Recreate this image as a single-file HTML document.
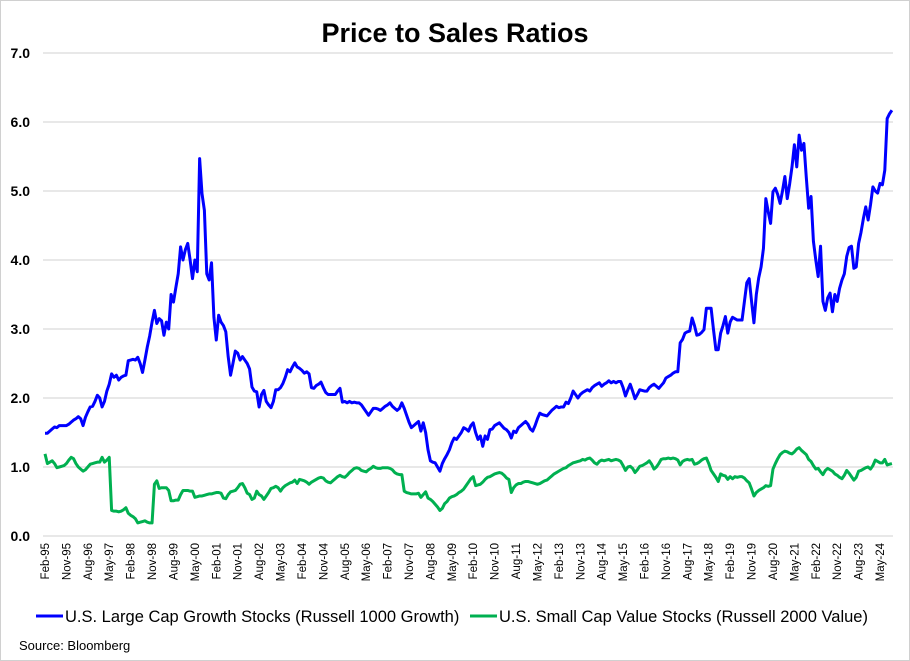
<!DOCTYPE html>
<html><head><meta charset="utf-8"><style>
body{margin:0;background:#fff;}
svg{display:block;font-family:"Liberation Sans",Arial,sans-serif;}
</style></head><body>
<svg id="chart" width="910" height="661" viewBox="0 0 910 661" xmlns="http://www.w3.org/2000/svg">
<rect x="0.5" y="0.5" width="909" height="660" fill="#fff" stroke="#d0d0d0"/>
<text x="455" y="42" text-anchor="middle" font-size="27" font-weight="bold" fill="#000">Price to Sales Ratios</text>
<g id="grid"></g>
<g id="yticks"></g>
<g id="xticks"></g>
<g id="series"></g>
<g>
<line x1="36" y1="616" x2="63" y2="616" stroke="#0000ff" stroke-width="3"/>
<text x="65" y="622" font-size="16.5" fill="#000">U.S. Large Cap Growth Stocks (Russell 1000 Growth)</text>
<line x1="470" y1="616" x2="497" y2="616" stroke="#00b050" stroke-width="3"/>
<text x="499" y="622" font-size="16.5" fill="#000">U.S. Small Cap Value Stocks (Russell 2000 Value)</text>
</g>
<text x="19" y="650" font-size="13" fill="#000">Source: Bloomberg</text>
</svg>
<script>
const yTicks=[0,1,2,3,4,5,6,7];
const xLabels=["Feb-95","Nov-95","Aug-96","May-97","Feb-98","Nov-98","Aug-99","May-00","Feb-01","Nov-01","Aug-02","May-03","Feb-04","Nov-04","Aug-05","May-06","Feb-07","Nov-07","Aug-08","May-09","Feb-10","Nov-10","Aug-11","May-12","Feb-13","Nov-13","Aug-14","May-15","Feb-16","Nov-16","Aug-17","May-18","Feb-19","Nov-19","Aug-20","May-21","Feb-22","Nov-22","Aug-23","May-24"];
const growth=[
1.49,1.49,1.52,1.55,1.58,1.57,1.60,1.60,1.60,1.60,1.62,1.65,
1.68,1.70,1.73,1.70,1.60,1.72,1.80,1.87,1.88,1.95,2.04,2.00,
1.87,1.95,2.10,2.20,2.35,2.30,2.33,2.26,2.30,2.32,2.33,2.54,
2.55,2.56,2.55,2.59,2.50,2.37,2.55,2.74,2.90,3.10,3.27,3.08,
3.15,3.12,2.91,3.10,3.00,3.50,3.39,3.60,3.80,4.19,4.00,4.15,
4.24,4.00,3.73,4.00,3.83,5.47,4.96,4.72,3.80,3.71,3.96,3.17,
2.84,3.20,3.10,3.05,2.96,2.60,2.33,2.50,2.68,2.65,2.55,2.60,
2.55,2.50,2.42,2.16,2.10,2.09,1.87,2.05,2.11,1.95,1.90,1.86,
1.95,2.12,2.12,2.15,2.21,2.30,2.41,2.38,2.45,2.51,2.45,2.43,
2.40,2.36,2.38,2.35,2.15,2.14,2.18,2.20,2.23,2.15,2.08,2.05,
2.05,2.05,2.05,2.10,2.14,1.94,1.95,1.93,1.95,1.93,1.94,1.93,
1.93,1.90,1.85,1.80,1.75,1.80,1.85,1.85,1.84,1.82,1.85,1.88,
1.90,1.93,1.88,1.85,1.82,1.85,1.93,1.85,1.75,1.65,1.57,1.60,
1.63,1.66,1.52,1.64,1.50,1.25,1.09,1.07,1.06,1.00,0.94,1.05,
1.12,1.18,1.25,1.35,1.42,1.40,1.45,1.50,1.57,1.55,1.52,1.60,
1.64,1.50,1.40,1.45,1.30,1.45,1.40,1.54,1.55,1.60,1.62,1.64,
1.60,1.56,1.54,1.50,1.42,1.52,1.50,1.57,1.60,1.63,1.66,1.62,
1.55,1.52,1.60,1.70,1.78,1.76,1.75,1.74,1.78,1.82,1.85,1.88,
1.86,1.87,1.87,1.94,1.92,2.00,2.10,2.05,2.00,2.05,2.08,2.10,
2.12,2.10,2.15,2.18,2.20,2.22,2.17,2.20,2.22,2.25,2.22,2.24,
2.22,2.24,2.24,2.15,2.03,2.12,2.20,2.10,1.99,2.05,2.12,2.11,
2.10,2.10,2.15,2.18,2.20,2.17,2.14,2.18,2.22,2.29,2.31,2.33,
2.36,2.38,2.38,2.80,2.85,2.94,2.96,2.97,3.16,3.05,2.91,2.92,
2.95,2.99,3.30,3.30,3.30,2.99,2.70,2.70,2.94,3.05,3.18,2.94,
3.10,3.17,3.15,3.13,3.13,3.13,3.40,3.67,3.73,3.40,3.09,3.50,
3.74,3.90,4.17,4.89,4.70,4.53,4.99,5.04,4.95,4.82,5.00,5.21,
4.89,5.10,5.35,5.67,5.35,5.81,5.59,5.69,5.20,4.75,4.92,4.27,
4.00,3.76,4.20,3.40,3.27,3.45,3.52,3.25,3.50,3.40,3.59,3.71,
3.80,4.05,4.18,4.20,3.88,3.90,4.24,4.40,4.60,4.77,4.58,4.80,
5.06,5.00,4.97,5.11,5.09,5.30,6.05,6.12,6.17];
const value=[
1.19,1.05,1.07,1.09,1.05,0.99,1.00,1.01,1.02,1.05,1.10,1.14,
1.12,1.05,1.00,0.97,0.94,0.96,1.00,1.04,1.05,1.06,1.07,1.07,
1.14,1.07,1.10,1.14,0.37,0.36,0.36,0.35,0.36,0.38,0.41,0.33,
0.30,0.28,0.25,0.19,0.20,0.21,0.22,0.20,0.19,0.19,0.75,0.80,
0.69,0.70,0.70,0.70,0.66,0.51,0.51,0.52,0.52,0.60,0.66,0.66,
0.66,0.65,0.65,0.56,0.57,0.58,0.58,0.59,0.60,0.61,0.61,0.62,
0.63,0.63,0.62,0.55,0.54,0.60,0.64,0.65,0.66,0.70,0.75,0.76,
0.70,0.62,0.60,0.53,0.55,0.65,0.60,0.58,0.53,0.58,0.63,0.69,
0.70,0.72,0.70,0.65,0.70,0.73,0.75,0.77,0.78,0.81,0.76,0.82,
0.81,0.80,0.78,0.75,0.78,0.80,0.82,0.84,0.85,0.84,0.80,0.78,
0.77,0.80,0.83,0.86,0.88,0.86,0.85,0.88,0.92,0.95,0.98,0.99,
0.98,0.95,0.94,0.93,0.96,0.98,1.01,0.99,0.98,0.98,0.99,0.99,
0.99,0.98,0.96,0.92,0.90,0.89,0.89,0.65,0.63,0.62,0.61,0.61,
0.61,0.62,0.56,0.60,0.64,0.55,0.53,0.50,0.46,0.42,0.37,0.40,
0.47,0.50,0.55,0.57,0.58,0.60,0.63,0.65,0.68,0.73,0.78,0.83,
0.86,0.73,0.74,0.75,0.78,0.82,0.85,0.86,0.88,0.90,0.91,0.92,
0.91,0.88,0.84,0.82,0.63,0.70,0.74,0.76,0.76,0.78,0.79,0.79,
0.78,0.77,0.76,0.75,0.76,0.78,0.80,0.81,0.84,0.87,0.90,0.92,
0.94,0.96,0.98,0.99,1.02,1.04,1.06,1.07,1.08,1.09,1.11,1.10,
1.12,1.13,1.10,1.06,1.04,1.08,1.10,1.09,1.10,1.11,1.09,1.10,
1.11,1.10,1.08,1.02,0.95,1.00,1.01,0.98,0.92,0.96,1.01,1.02,
1.04,1.06,1.09,1.04,0.97,1.00,1.05,1.11,1.12,1.12,1.13,1.12,
1.13,1.12,1.10,1.03,1.08,1.10,1.11,1.10,1.11,1.04,1.05,1.07,
1.10,1.12,1.13,1.05,0.95,0.90,0.85,0.79,0.90,0.88,0.87,0.82,
0.86,0.83,0.86,0.85,0.86,0.86,0.84,0.80,0.77,0.68,0.58,0.63,
0.66,0.68,0.70,0.73,0.72,0.73,0.97,1.05,1.12,1.18,1.21,1.23,
1.22,1.20,1.19,1.22,1.26,1.28,1.24,1.21,1.18,1.11,1.08,1.02,
0.97,0.98,0.93,0.89,0.95,0.98,0.96,0.94,0.90,0.88,0.85,0.83,
0.88,0.95,0.91,0.86,0.81,0.85,0.94,0.95,0.97,0.99,1.00,0.97,
1.02,1.10,1.08,1.06,1.06,1.11,1.03,1.04,1.05];

const NS="http://www.w3.org/2000/svg";
const y0=536, pxPerUnit=69, x0=45, pxPerMonth=2.379, labelStep=9;
function yScale(v){return y0-v*pxPerUnit;}
function xScale(i){return x0+i*pxPerMonth;}
const grid=document.getElementById('grid'), yt=document.getElementById('yticks'), xt=document.getElementById('xticks'), ser=document.getElementById('series');
yTicks.forEach(t=>{
  const l=document.createElementNS(NS,'line');
  l.setAttribute('x1',43);l.setAttribute('x2',893);
  l.setAttribute('y1',yScale(t));l.setAttribute('y2',yScale(t));
  l.setAttribute('stroke','#d9d9d9');l.setAttribute('stroke-width','1.3');
  
  
  grid.appendChild(l);
  const tx=document.createElementNS(NS,'text');
  tx.setAttribute('x',30);tx.setAttribute('y',yScale(t)+5);
  tx.setAttribute('text-anchor','end');tx.setAttribute('font-size','14');tx.setAttribute('font-weight','bold');
  tx.textContent=t.toFixed(1);
  
  
  yt.appendChild(tx);
});
xLabels.forEach((lab,k)=>{
  const x=xScale(k*labelStep)+4;
  const tx=document.createElementNS(NS,'text');
  tx.setAttribute('transform','translate('+x+',543) rotate(-90)');
  tx.setAttribute('text-anchor','end');tx.setAttribute('font-size','11.5');
  tx.textContent=lab;
  
  
  xt.appendChild(tx);
});
function drawLine(arr,color,name){
  const p=document.createElementNS(NS,'polyline');
  p.setAttribute('points',arr.map((v,i)=>xScale(i).toFixed(2)+','+yScale(v).toFixed(2)).join(' '));
  p.setAttribute('fill','none');p.setAttribute('stroke',color);p.setAttribute('stroke-width','3');
  p.setAttribute('stroke-linejoin','round');
  
  
  ser.appendChild(p);
}
drawLine(value,'#00b050','small-cap-value-line');
drawLine(growth,'#0000ff','large-cap-growth-line');
</script>
</body></html>
